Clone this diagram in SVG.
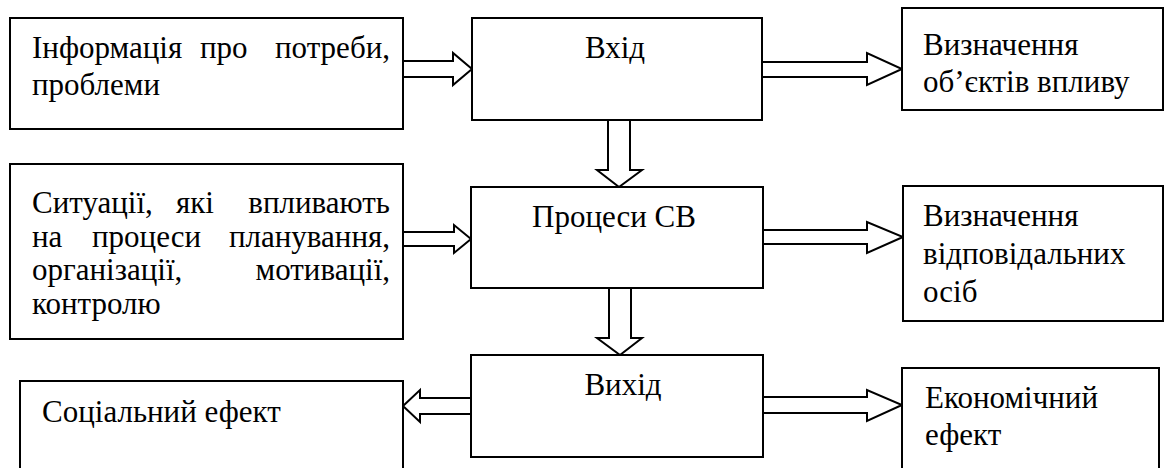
<svg xmlns="http://www.w3.org/2000/svg" width="1169" height="468" viewBox="0 0 1169 468">
<style>
.box{fill:#fff;stroke:#000;stroke-width:2}
.arr{fill:#fff;stroke:#000;stroke-width:2;stroke-linejoin:miter}
.t{font-family:'Liberation Serif','Times New Roman',serif;font-size:31px;fill:#000}
.e{text-anchor:end}
.m{text-anchor:middle}
</style>
<rect width="1169" height="468" fill="#fff"/>
<g id="connectors">
<path class="arr" d="M403,61 H453 V53 L472,69 L453,85 V77 H403"/>
<path class="arr" d="M762,62 H867 V53 L902,69 L867,85 V77 H762"/>
<path class="arr" d="M608,120 V170 H597 L619,187 L642,170 H630 V120"/>
<path class="arr" d="M403,232 H454 V225 L471,239 L454,253 V246 H403"/>
<path class="arr" d="M763,230 H867 V222 L903,237 L867,253 V244 H763"/>
<path class="arr" d="M609,288 V338 H597 L620,355 L642,338 H631 V288"/>
<path class="arr" d="M471,398 H420 V390 L403,406 L420,422 V414 H471"/>
<path class="arr" d="M763,397 H867 V390 L902,405 L867,421 V413 H763"/>
</g>
<g id="n-info">
<rect class="box" x="10" y="18" width="393" height="111"/>
<text class="t" x="32" y="58">Інформація</text>
<text class="t" x="200" y="58">про</text>
<text class="t e" x="390" y="58">потреби,</text>
<text class="t" x="32" y="95">проблеми</text>
</g>
<g id="n-vhid">
<rect class="box" x="472" y="18" width="290" height="102"/>
<text class="t m" x="615" y="58">Вхід</text>
</g>
<g id="n-obj">
<rect class="box" x="902" y="8" width="261" height="102"/>
<text class="t" x="923" y="55">Визначення</text>
<text class="t" x="923" y="92">об’єктів впливу</text>
</g>
<g id="n-sit">
<rect class="box" x="10" y="164" width="393" height="175"/>
<text class="t" x="32" y="213">Ситуації,</text>
<text class="t" x="176" y="213">які</text>
<text class="t e" x="390" y="213">впливають</text>
<text class="t" x="32" y="247">на</text>
<text class="t" x="92" y="247">процеси</text>
<text class="t e" x="390" y="247">планування,</text>
<text class="t" x="32" y="280">організації,</text>
<text class="t e" x="390" y="280">мотивації,</text>
<text class="t" x="32" y="314">контролю</text>
</g>
<g id="n-proc">
<rect class="box" x="471" y="187" width="292" height="101"/>
<text class="t m" x="614" y="227">Процеси СВ</text>
</g>
<g id="n-resp">
<rect class="box" x="903" y="186" width="260" height="135"/>
<text class="t" x="923" y="226">Визначення</text>
<text class="t" x="923" y="264">відповідальних</text>
<text class="t" x="923" y="302">осіб</text>
</g>
<g id="n-vyhid">
<rect class="box" x="471" y="355" width="292" height="102"/>
<text class="t m" x="623" y="395">Вихід</text>
</g>
<g id="n-social">
<rect class="box" x="20" y="381" width="383" height="110"/>
<text class="t" x="42" y="422">Соціальний ефект</text>
</g>
<g id="n-econ">
<rect class="box" x="902" y="368" width="257" height="120"/>
<text class="t" x="925" y="408">Економічний</text>
<text class="t" x="925" y="445">ефект</text>
</g>
</svg>
